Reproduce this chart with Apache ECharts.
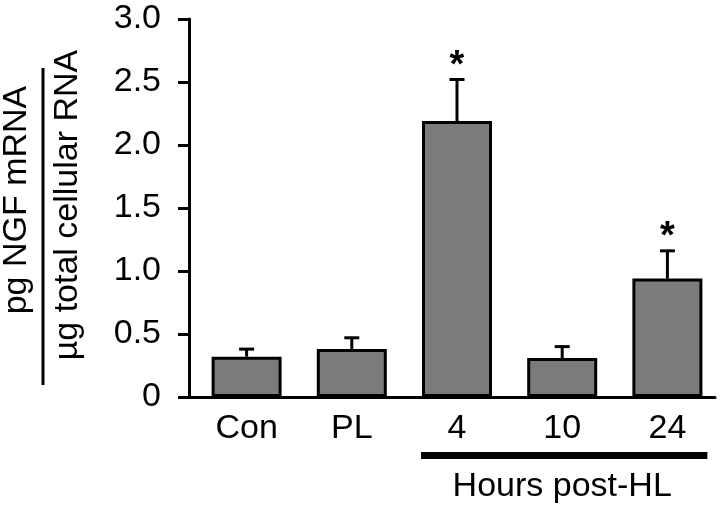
<!DOCTYPE html>
<html>
<head>
<meta charset="utf-8">
<script src="https://cdn.jsdelivr.net/npm/echarts@6/dist/echarts.min.js"></script>
<style>
  html, body { margin: 0; padding: 0; background: #fff; }
  #chart { width: 720px; height: 507px; }
</style>
</head>
<body>
<div id="chart"></div>
<script>
// values
const categories = ['Con', 'PL', '4', '10', '24'];
const means = [0.32, 0.38, 2.19, 0.31, 0.94];
const errors = [0.06, 0.09, 0.33, 0.09, 0.22];
const significant = [false, false, true, false, true];
const yTicks = [0, 0.5, 1.0, 1.5, 2.0, 2.5, 3.0];
const groupedCats = ['4', '10', '24'];

const FONT = 'Liberation Sans, Arial, Helvetica, sans-serif';
const FS = 34;

const chart = echarts.init(document.getElementById('chart'));

const errData = categories.map((c, i) => [i, means[i], means[i] + errors[i], significant[i] ? 1 : 0]);

function renderError(params, api) {
    const x = api.value(0);
    const base = api.coord([x, api.value(1)]);
    const top = api.coord([x, api.value(2)]);
    const cap = 7.5;
    const children = [
        { type: 'line', shape: { x1: base[0], y1: base[1], x2: top[0], y2: top[1] },
          style: { stroke: '#000', lineWidth: 3 } },
        { type: 'line', shape: { x1: top[0] - cap, y1: top[1], x2: top[0] + cap, y2: top[1] },
          style: { stroke: '#000', lineWidth: 3 } }
    ];
    if (api.value(3)) {
        children.push({
            type: 'text', x: top[0], y: top[1] - 13,
            style: { text: '*', font: 'bold 38px ' + FONT, fill: '#000',
                     align: 'center', verticalAlign: 'middle' }
        });
    }
    return { type: 'group', children: children };
}

chart.setOption({
    animation: false,
    backgroundColor: '#fff',
    grid: [
        // axes frame
        { left: 189, right: 5, top: 19, bottom: 110 },
        // bars
        { left: 194, width: 529, top: 19, bottom: 110 }
    ],
    xAxis: [
        {
            type: 'category', gridIndex: 0, data: categories,
            axisLine: { lineStyle: { color: '#000', width: 3 } },
            axisTick: { show: false },
            axisLabel: { show: false }
        },
        {
            type: 'category', gridIndex: 1, data: categories,
            axisLine: { show: false },
            axisTick: { show: false },
            axisLabel: { color: '#000', fontSize: FS, fontFamily: FONT, margin: 15 }
        }
    ],
    yAxis: [
        {
            type: 'value', gridIndex: 0, min: yTicks[0], max: yTicks[yTicks.length - 1], interval: 0.5,
            axisLine: { show: true, lineStyle: { color: '#000', width: 3 } },
            axisTick: { show: true, inside: false, length: 11, lineStyle: { color: '#000', width: 3 } },
            splitLine: { show: false },
            axisLabel: {
                color: '#000', fontSize: FS, fontFamily: FONT, margin: 28,
                formatter: v => (v === 0 ? '0' : v.toFixed(1))
            }
        },
        {
            type: 'value', gridIndex: 1, min: yTicks[0], max: yTicks[yTicks.length - 1], interval: 0.5,
            show: false
        }
    ],
    series: [
        {
            type: 'bar', xAxisIndex: 1, yAxisIndex: 1,
            data: means, barWidth: 70,
            itemStyle: { color: '#7b7b7b', borderColor: '#000', borderWidth: 3 },
            z: 2
        },
        {
            type: 'custom', xAxisIndex: 1, yAxisIndex: 1,
            data: errData, renderItem: renderError, z: 1
        }
    ]
});

// group bracket under the HL time points, placed from the axis scale
const firstX = chart.convertToPixel({ xAxisIndex: 1 }, groupedCats[0]);
const midX = chart.convertToPixel({ xAxisIndex: 1 }, groupedCats[1]);
const lastX = chart.convertToPixel({ xAxisIndex: 1 }, groupedCats[groupedCats.length - 1]);

chart.setOption({
    graphic: [
        // y-axis title, two rotated lines with a fraction bar
        { type: 'text', x: 17, y: 200, rotation: Math.PI / 2,
          style: { text: 'pg NGF mRNA', font: FS + 'px ' + FONT, fill: '#000', align: 'center', verticalAlign: 'middle' } },
        { type: 'line', shape: { x1: 43, y1: 68, x2: 43, y2: 385 }, style: { stroke: '#000', lineWidth: 3 } },
        { type: 'text', x: 68, y: 205, rotation: Math.PI / 2,
          style: { text: 'µg total cellular RNA', font: FS + 'px ' + FONT, fill: '#000', align: 'center', verticalAlign: 'middle' } },
        // bracket
        { type: 'rect', shape: { x: firstX - 36, y: 452, width: (lastX + 40) - (firstX - 36), height: 7 },
          style: { fill: '#000' } },
        { type: 'text', x: midX, y: 487,
          style: { text: 'Hours post-HL', font: FS + 'px ' + FONT, fill: '#000', align: 'center', verticalAlign: 'middle' } }
    ]
});
</script>
</body>
</html>
